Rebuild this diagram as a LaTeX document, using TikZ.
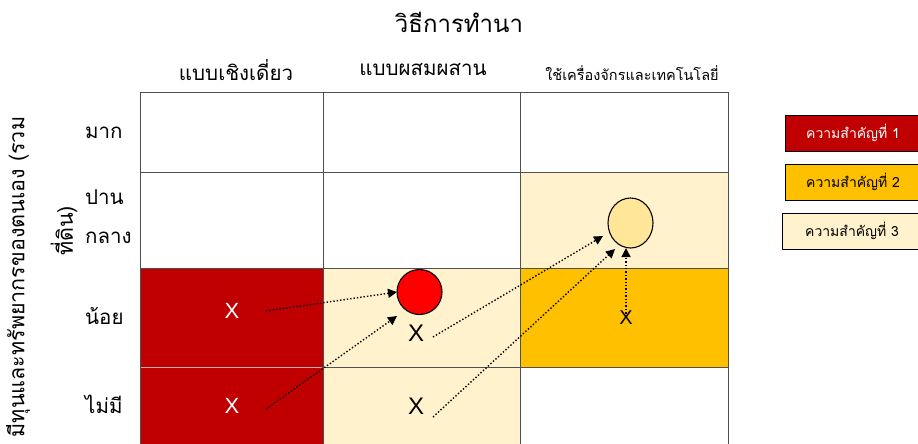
\documentclass[tikz,border=0pt]{standalone}
\usepackage{fontspec}
\setmainfont{Liberation Sans}
\newfontfamily\thai[Script=Thai]{Loma}
\usetikzlibrary{arrows.meta,shapes.geometric}
\definecolor{pdark}{HTML}{C00000}
\definecolor{pamber}{HTML}{FFC000}
\definecolor{pcream}{HTML}{FFF2CC}
\definecolor{plight}{HTML}{FFE699}
\definecolor{pred}{HTML}{FF0000}
\definecolor{gridc}{HTML}{505050}
\tikzset{
  gridline/.style={draw=gridc, line width=1pt},
  legbox/.style={draw=black, line width=1.4pt, minimum width=148pt, minimum height=36pt, inner sep=0pt},
  legtext/.style={font=\thai\fontsize{14}{16}\selectfont, inner sep=0pt},
  xmark/.style={font=\fontsize{22}{24}\selectfont, inner sep=0pt},
  hdr/.style={font=\thai\fontsize{20.5}{24}\selectfont, inner sep=0pt},
  rowlab/.style={font=\thai\fontsize{20.5}{39}\selectfont, inner sep=0pt, align=left},
  vlab/.style={rotate=90, font=\thai\fontsize{21.5}{24}\selectfont, inner sep=0pt},
  link/.style={dotted, line width=1.4pt, -{Triangle[length=9pt,width=9pt]}},
  dot/.style={draw=black, line width=1.1pt, inner sep=0pt}
}
\begin{document}
\begin{tikzpicture}[x=1pt,y=-1pt]
\useasboundingbox (0,0) rectangle (918,444);
% cells
\fill[pdark] (140,268) rectangle (323,460);
\fill[pcream] (323,268) rectangle (520,460);
\fill[pamber] (520,268) rectangle (728,367);
\fill[pcream] (520,172) rectangle (728,268);
% grid
\draw[gridline] (140,92) rectangle (728,460);
\foreach \yy in {172,268,367} \draw[gridline] (140,\yy) -- (728,\yy);
\foreach \xx in {323,520} \draw[gridline] (\xx,92) -- (\xx,460);
\draw[draw=gray!60, line width=1pt] (141,367) -- (322,367);
% titles
\node[font=\thai\fontsize{24}{28}\selectfont, inner sep=0pt] (title) at (459,22) {วิธีการทำนา};
\node[hdr] (h1) at (236,70) {แบบเชิงเดี่ยว};
\node[hdr] (h2) at (423,70) {แบบผสมผสาน};
\node[hdr, font=\thai\fontsize{14.5}{17}\selectfont] (h3) at (632,73) {ใช้เครื่องจักรและเทคโนโลยี่};
% row labels
\node[rowlab, anchor=west] (r1) at (85,133) {มาก};
\node[rowlab, anchor=west] (r2) at (85,217) {ปาน\\กลาง};
\node[rowlab, anchor=west] (r3) at (85,316) {น้อย};
\node[rowlab, anchor=west] (r4) at (85,404) {ไม่มี};
% vertical label
\node[vlab] (v1) at (18,277) {มีทุนและทรัพยากรของตนเอง (รวม};
\node[vlab] (v2) at (64,231) {ที่ดิน)};
% X marks
\node[xmark, text=white] (x1) at (232,311) {X};
\node[xmark, text=white] (x2) at (232,406) {X};
\node[xmark, font=\fontsize{24}{26}\selectfont] (x3) at (416,333) {X};
\node[xmark, font=\fontsize{24}{26}\selectfont] (x4) at (416,406) {X};
\node[xmark, font=\fontsize{20}{22}\selectfont] (x5) at (626,318) {X};
% circles
\node[dot, circle, fill=pred, minimum size=45pt] (c1) at (419.5,292) {};
\node[dot, ellipse, fill=plight, minimum width=45pt, minimum height=50pt] (c2) at (630.5,223) {};
% arrow end points
\coordinate (s1) at (266,311);
\coordinate (e1) at (397,292);
\coordinate (s2) at (266,409);
\coordinate (e2) at (397,316);
\coordinate (s3) at (433,337);
\coordinate (e3) at (603,236);
\coordinate (s4) at (433,417);
\coordinate (e4) at (615,249);
\coordinate (s5) at (626,317);
\coordinate (e5) at (626,248);
\draw[link] (s1) -- (e1);
\draw[link] (s2) -- (e2);
\draw[link] (s3) -- (e3);
\draw[link] (s4) -- (e4);
\draw[link] (s5) -- (e5);
% legend
\node[legbox, fill=pdark, anchor=north west] (l1) at (785,115) {};
\node[legbox, fill=pamber, anchor=north west] (l2) at (785,164) {};
\node[legbox, fill=pcream, anchor=north west] (l3) at (782,213) {};
\node[legtext, text=white] (t1) at (853,133) {ความสำคัญที่ 1};
\node[legtext] (t2) at (853,182) {ความสำคัญที่ 2};
\node[legtext] (t3) at (852,231) {ความสำคัญที่ 3};
\end{tikzpicture}
\end{document}
